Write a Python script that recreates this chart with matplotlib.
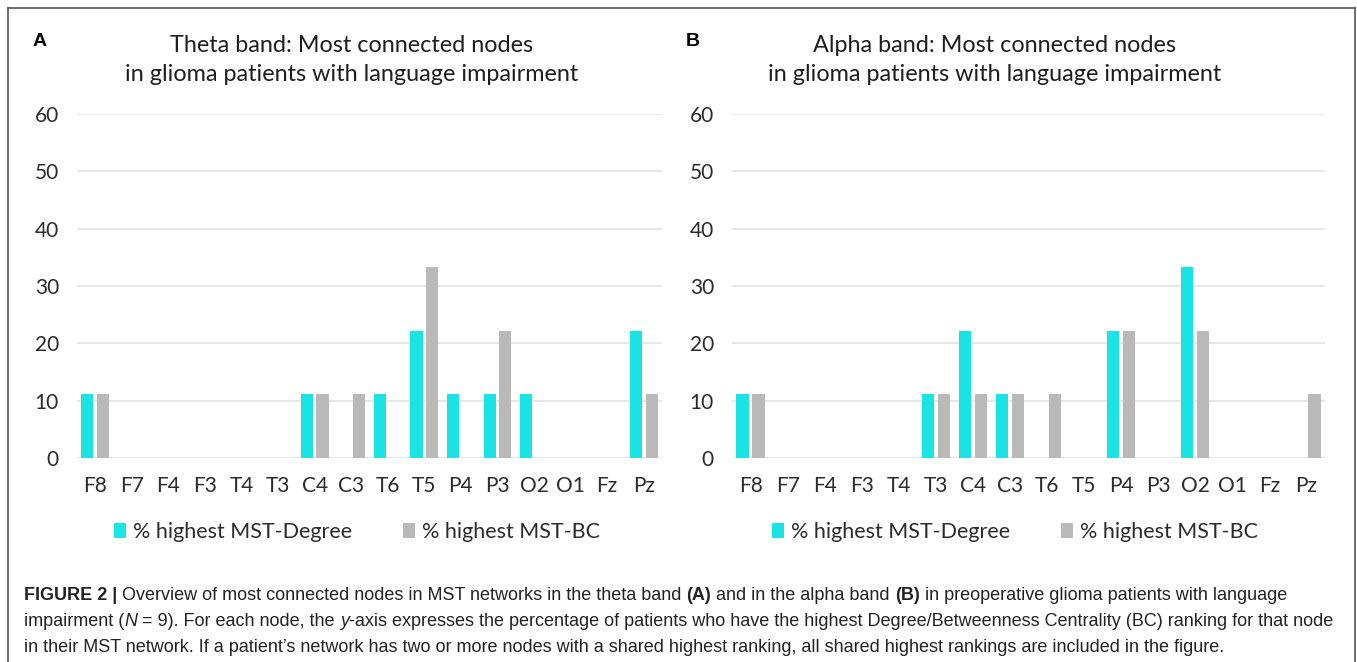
import numpy as np
import matplotlib.pyplot as plt
from matplotlib.lines import Line2D

nodes = ["F8", "F7", "F4", "F3", "T4", "T3", "C4", "C3", "T6", "T5", "P4", "P3", "O2", "O1", "Fz", "Pz"]

theta_degree = [11.1, 0, 0, 0, 0, 0, 11.1, 0, 11.1, 22.2, 11.1, 11.1, 11.1, 0, 0, 22.2]
theta_bc = [11.1, 0, 0, 0, 0, 0, 11.1, 11.1, 0, 33.3, 0, 22.2, 0, 0, 0, 11.1]

alpha_degree = [11.1, 0, 0, 0, 0, 11.1, 22.2, 11.1, 0, 0, 22.2, 0, 33.3, 0, 0, 0]
alpha_bc = [11.1, 0, 0, 0, 0, 11.1, 11.1, 11.1, 11.1, 0, 22.2, 0, 22.2, 0, 0, 11.1]

titles = ["Theta band: Most connected nodes\nin glioma patients with language impairment",
          "Alpha band: Most connected nodes\nin glioma patients with language impairment"]
legend_labels = ["% highest MST-Degree", "% highest MST-BC"]

cyan = "#19e3e3"
grey = "#b9b9b9"
W, H = 1357, 662

fig = plt.figure(figsize=(W / 100, H / 100), dpi=100)

def px(x0, y0, x1, y1):
    # pixel box (top-left origin) -> figure fraction
    return [x0 / W, 1 - y1 / H, (x1 - x0) / W, (y1 - y0) / H]

panels = [
    (px(77, 114, 662, 458), theta_degree, theta_bc, titles[0], "A", 40, 357, 352),
    (px(732, 114, 1325, 458), alpha_degree, alpha_bc, titles[1], "B", 693, 1015, 995),
]

x = np.arange(len(nodes))
w = 0.33
for box, deg, bc, title, letter, lx, legx, tx in panels:
    ax = fig.add_axes(box)
    ax.bar(x - 0.215, deg, w, color=cyan, label=legend_labels[0], zorder=3)
    ax.bar(x + 0.215, bc, w, color=grey, label=legend_labels[1], zorder=3)
    ax.set_xlim(-0.5, len(nodes) - 0.5)
    ax.set_ylim(0, 60)
    ax.set_yticks(range(0, 61, 10))
    ax.set_xticks(x)
    ax.set_xticklabels(nodes)
    ax.yaxis.grid(True, color="#e3e3e3", lw=1.2, zorder=0)
    ax.set_axisbelow(True)
    for s in ax.spines.values():
        s.set_visible(False)
    ax.tick_params(length=0, labelsize=15, labelcolor="#2b2b2b")
    ax.tick_params(axis="x", pad=13)
    ax.tick_params(axis="y", pad=13)
    for t in ax.get_xticklabels() + ax.get_yticklabels():
        t.set_fontfamily("Lato")
    fig.text(tx / W, 1 - 60 / H, title, ha="center", va="center", fontsize=16.8,
             family="Lato", color="#1e1e1e", linespacing=1.45)
    fig.text(lx / W, 1 - 42 / H, letter, ha="center", va="center", fontsize=14,
             fontweight="bold", family="Liberation Sans")
    leg = ax.legend(loc="center", bbox_to_anchor=(legx / W, 1 - 532 / H),
                    bbox_transform=fig.transFigure, ncol=2, frameon=False,
                    handlelength=0.55, handleheight=0.7, handletextpad=0.3,
                    columnspacing=2.4, prop={"family": "Lato", "size": 15.5})
    for t in leg.get_texts():
        t.set_color("#2b2b2b")

# frame around the figure
for xs, ys in [([8, 8], [8, H]), ([8, 1355], [8, 8]), ([1355, 1355], [8, H])]:
    fig.add_artist(Line2D([v / W for v in xs], [1 - v / H for v in ys],
                          color="#555555", lw=1.2))

# caption with mixed styles
caption = [
    [("FIGURE 2 |", "bold", "normal"), (" Overview of most connected nodes in MST networks in the theta band ", "normal", "normal"),
     ("(A)", "bold", "normal"), (" and in the alpha band ", "normal", "normal"), ("(B)", "bold", "normal"),
     (" in preoperative glioma patients with language", "normal", "normal")],
    [("impairment (", "normal", "normal"), ("N", "normal", "italic"),
     (" = 9). For each node, the ", "normal", "normal"), ("y", "normal", "italic"),
     ("-axis expresses the percentage of patients who have the highest Degree/Betweenness Centrality (BC) ranking for that node", "normal", "normal")],
    [("in their MST network. If a patient\u2019s network has two or more nodes with a shared highest ranking, all shared highest rankings are included in the figure.", "normal", "normal")],
]
renderer = fig.canvas.get_renderer()
for i, line in enumerate(caption):
    xpos = 24
    ypos = 600 + i * 26
    for txt, weight, style in line:
        t = fig.text(xpos / W, 1 - ypos / H, txt, ha="left", va="baseline", fontsize=13,
                     family="Liberation Sans", fontweight=weight, style=style, color="#222222")
        bb = t.get_window_extent(renderer)
        xpos += bb.width

fig.savefig("out.png", dpi=100)
